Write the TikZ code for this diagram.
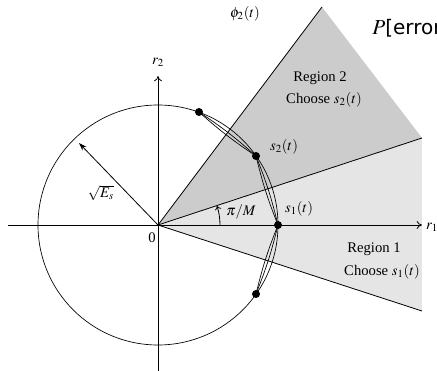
\documentclass[tikz,border=0pt]{standalone}
\usepackage{mathptmx}
\usepackage{fontspec}
\setmainfont{Liberation Serif}
\newfontfamily\errfont{DejaVu Sans}
\usetikzlibrary{arrows.meta,calc}
\tikzset{
  axis/.style={line width=0.6pt, -{To[length=4pt,width=6pt]}},
  bound/.style={line width=0.6pt},
  sigpt/.style={circle, fill=black, inner sep=0pt, minimum size=6pt},
  lens/.style={line width=0.5pt},
  lbl/.style={font=\fontsize{11}{13}\selectfont, inner sep=1pt},
}

\begin{document}
\begin{tikzpicture}[x=0.75pt, y=-0.75pt]
    \useasboundingbox (0,0) rectangle (437,371);
    \coordinate (O) at (158,225);
    \coordinate (apex) at (322,7);
    \coordinate (rtop) at (422,138);
    \coordinate (rbot) at (422,311);
    % decision regions
    \fill[gray!20] (O) -- (rtop) -- (rbot) -- cycle;
    \fill[gray!40] (O) -- (apex) -- (rtop) -- cycle;
    \draw[bound] (O) -- (apex);
    \draw[bound] (O) -- (rtop);
    \draw[bound] (O) -- (rbot);
    % axes
    \coordinate (xl) at (8,225);
    \coordinate (xr) at (422,225);
    \coordinate (yb) at (158,371);
    \coordinate (yt) at (158,76);
    \draw[axis] (xl) -- (xr);
    \draw[axis] (yb) -- (yt);
    \node[lbl] (r1) at (432,227) {$r_1$};
    \node[lbl] (r2) at (158,62) {$r_2$};
    \node[lbl] (phi) at (245,14) {$\phi_2(t)$};
    \node[lbl] (zero) at (152,238) {0};
    % signal circle
    \draw[lens] (O) circle[radius=90pt];
    \node[sigpt] (s3) at (199,112) {};
    \node[sigpt] (s2) at (256,156) {};
    \node[sigpt] (s1) at (278,225) {};
    \node[sigpt] (s4) at (256,294) {};
    \draw[lens] (s3.center) to[bend left=4] (s2.center);
    \draw[lens] (s3.center) to[bend right=4] (s2.center);
    \draw[lens] (s2.center) to[bend left=4] (s1.center);
    \draw[lens] (s2.center) to[bend right=4] (s1.center);
    \draw[lens] (s1.center) to[bend left=4] (s4.center);
    \draw[lens] (s1.center) to[bend right=4] (s4.center);
    \node[lbl] (s2lbl) at (284,147) {$s_2(t)$};
    \node[lbl] (s1lbl) at (299,209) {$s_1(t)$};
    % radius and angle
    \coordinate (rtip) at (79,143);
    \draw[bound, -{Stealth[length=6pt,width=4pt]}] (O) -- (rtip);
    \node[lbl] (sqrtE) at (101,193) {$\sqrt{E_s}$};
    \draw[bound, -{To[length=3pt,width=5pt]}] ($(O)+(62,0)$) arc[start angle=0, end angle=18, radius=46.5pt];
    \node[lbl] (piM) at (241,212) {$\pi/M$};
    % region labels
    \node[lbl] (reg2) at (320,78) {Region 2};
    \node[lbl] (ch2) at (324,100) {Choose $s_2(t)$};
    \node[lbl] (reg1) at (374,249) {Region 1};
    \node[lbl] (ch1) at (382,272) {Choose $s_1(t)$};
    \node[font=\fontsize{16}{18}\selectfont, anchor=base west, inner sep=0pt] (perr) at (372,35)
      {$P${\errfont\fontsize{15}{18}\selectfont[error}};
\end{tikzpicture}
\end{document}
